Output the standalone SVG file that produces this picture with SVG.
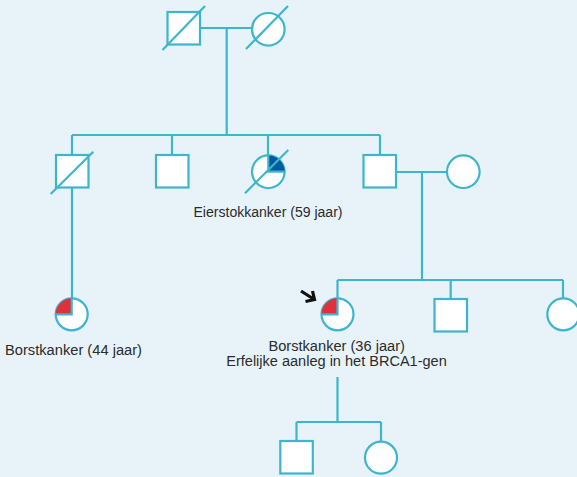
<svg xmlns="http://www.w3.org/2000/svg" width="577" height="477" viewBox="0 0 577 477">
<style>
.ln{fill:none;stroke:#3db5cf;stroke-width:2.2}
.nd{fill:#ffffff;stroke:#3db5cf;stroke-width:2.2}
.sl{stroke:#3db5cf;stroke-width:2.2;fill:none}
.tx{font-family:"Liberation Sans",Arial,sans-serif;font-size:14px;fill:#2b2b2b;text-anchor:middle}
</style>
<rect width="577" height="477" fill="#e8f3f9"/>
<g id="connectors">
<path class="ln" d="M200,28 H252 M226.7,28 V135 M72,135 H380 M72,135 V155 M172,135 V155 M268,135 V172 M380,135 V155 M72,188 V314 M396,172 H447 M422,172 V280 M337.5,280 H563 M337.5,280 V314 M450.7,280 V299 M563,280 V298 M337.5,377 V422 M296.5,422 H381 M296.5,422 V441 M381,422 V441.5"/>
</g>
<g id="grandfather">
<rect class="nd" x="167.5" y="12" width="32.5" height="32.5"/>
<line class="sl" x1="162.5" y1="50" x2="205" y2="6"/>
</g>
<g id="grandmother">
<circle class="nd" cx="268.3" cy="29.3" r="16.3"/>
<line class="sl" x1="246" y1="49" x2="288" y2="6"/>
</g>
<g id="uncle-deceased">
<rect class="nd" x="56" y="155" width="32.5" height="32.5"/>
<line class="sl" x1="50.7" y1="194" x2="93.3" y2="151.7"/>
</g>
<g id="uncle">
<rect class="nd" x="156" y="155" width="32.5" height="32.5"/>
</g>
<g id="aunt-ovarian">
<circle class="nd" cx="268.3" cy="171.7" r="16.3"/>
<path d="M268.3,171.7 V155.4 A16.3,16.3 0 0 1 284.6,171.7 Z" fill="#005a9c"/>
<path class="sl" d="M268.3,155.4 V171.7 H284.6"/>
<line class="sl" x1="245" y1="193.3" x2="288.3" y2="150"/>
<text class="tx" x="268" y="216.5" textLength="149" lengthAdjust="spacingAndGlyphs">Eierstokkanker (59 jaar)</text>
</g>
<g id="father">
<rect class="nd" x="363.5" y="155" width="32.5" height="32.5"/>
</g>
<g id="mother">
<circle class="nd" cx="463.3" cy="171.7" r="16.3"/>
</g>
<g id="cousin">
<circle class="nd" cx="71.7" cy="314.3" r="16"/>
<path d="M71.7,314.3 V298.3 A16,16 0 0 0 55.7,314.3 Z" fill="#e0303a"/>
<path class="sl" d="M71.7,298.3 V314.3 H55.7"/>
<text class="tx" x="73.5" y="355" textLength="137" lengthAdjust="spacingAndGlyphs">Borstkanker (44 jaar)</text>
</g>
<g id="proband">
<circle class="nd" cx="337.5" cy="314.3" r="16"/>
<path d="M337.5,314.3 V298.3 A16,16 0 0 0 321.5,314.3 Z" fill="#e0303a"/>
<path class="sl" d="M337.5,298.3 V314.3 H321.5"/>
<path d="M301,291 L313.5,299 M305.5,301.5 L314.5,299.5 L312.5,291" fill="none" stroke="#111" stroke-width="3.2" stroke-linejoin="miter"/>
<text class="tx" x="336.7" y="350.5" textLength="136.5" lengthAdjust="spacingAndGlyphs">Borstkanker (36 jaar)</text>
<text class="tx" x="336.5" y="366" textLength="220.5" lengthAdjust="spacingAndGlyphs">Erfelijke aanleg in het BRCA1-gen</text>
</g>
<g id="brother">
<rect class="nd" x="434.5" y="299" width="32.5" height="32.5"/>
</g>
<g id="sister">
<circle class="nd" cx="563.3" cy="314.3" r="16"/>
</g>
<g id="son">
<rect class="nd" x="280.3" y="441" width="32.5" height="32.5"/>
</g>
<g id="daughter">
<circle class="nd" cx="381" cy="457.7" r="16"/>
</g>
</svg>
